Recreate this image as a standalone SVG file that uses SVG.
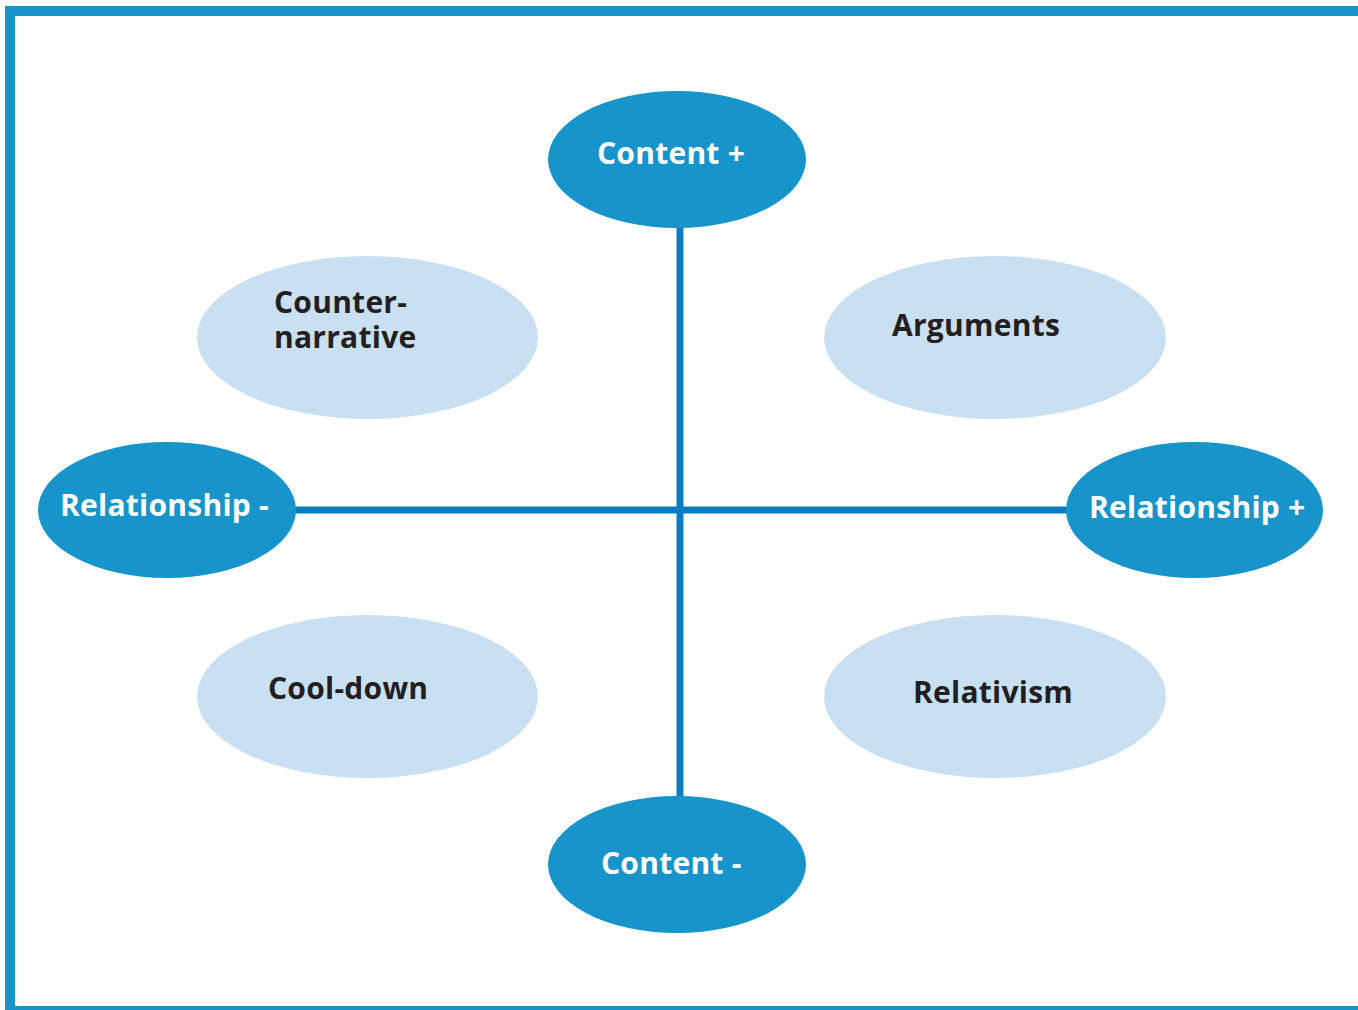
<svg xmlns="http://www.w3.org/2000/svg" width="1358" height="1010" viewBox="0 0 1358 1010">
<style>
.frame{fill:none;stroke:#1795cb;stroke-width:10}
.axis{stroke:#0a7cc1;stroke-width:7;fill:none}
.dark{fill:#1795cb}
.light{fill:#c9e0f3}
.t{font-family:"Open Sans","Noto Sans","DejaVu Sans",sans-serif;font-weight:bold;font-size:30px;letter-spacing:0.25px}
.tw{fill:#ffffff}
.tb{fill:#231f20}
</style>
<rect width="1358" height="1010" fill="#ffffff"/>
<path class="frame" d="M1370 11 H10 V1011 H1370"/>
<g id="connectors">
<line class="axis" x1="680" y1="225" x2="680" y2="800"/>
<line class="axis" x1="292" y1="510" x2="1070" y2="510"/>
</g>
<g id="content-plus">
<ellipse class="dark" cx="677" cy="159.5" rx="129" ry="68.5"/>
<text class="t tw" x="597" y="164">Content +</text>
</g>
<g id="content-minus">
<ellipse class="dark" cx="677" cy="864.5" rx="129" ry="68.5"/>
<text class="t tw" x="601" y="874">Content -</text>
</g>
<g id="relationship-minus">
<ellipse class="dark" cx="167" cy="510" rx="129" ry="68"/>
<text class="t tw" x="60" y="516">Relationship -</text>
</g>
<g id="relationship-plus">
<ellipse class="dark" cx="1194.5" cy="510" rx="128.5" ry="68"/>
<text class="t tw" x="1089" y="518">Relationship +</text>
</g>
<g id="counter-narrative">
<ellipse class="light" cx="367.5" cy="337.5" rx="170.5" ry="81.5"/>
<text class="t tb" x="274" y="313"><tspan x="274" y="313">Counter-</tspan><tspan x="274" y="348">narrative</tspan></text>
</g>
<g id="arguments">
<ellipse class="light" cx="995" cy="337.5" rx="171" ry="81.5"/>
<text class="t tb" x="892" y="336">Arguments</text>
</g>
<g id="cool-down">
<ellipse class="light" cx="367.5" cy="696.5" rx="170.5" ry="81.5"/>
<text class="t tb" x="268" y="699">Cool-down</text>
</g>
<g id="relativism">
<ellipse class="light" cx="995" cy="696.5" rx="171" ry="81.5"/>
<text class="t tb" x="913" y="703">Relativism</text>
</g>
</svg>
